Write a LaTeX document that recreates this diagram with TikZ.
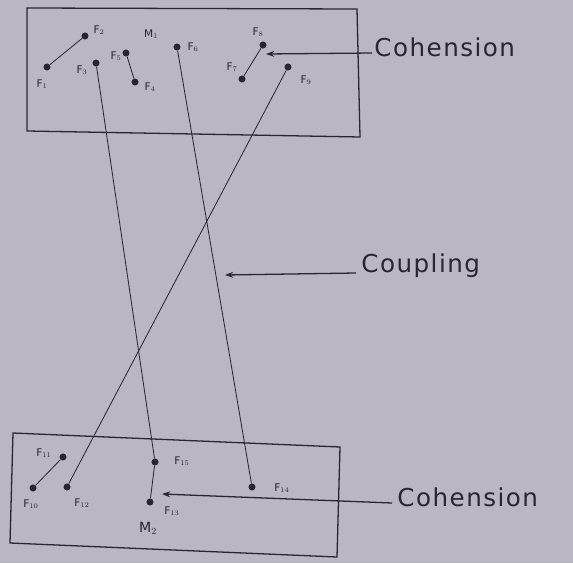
\documentclass[tikz,border=0pt]{standalone}
\usepackage{fontspec}
\setmainfont{DejaVu Sans}
\usetikzlibrary{arrows.meta}
\definecolor{paper}{RGB}{186,182,196}
\definecolor{ink}{RGB}{40,38,48}
\begin{document}
\begin{tikzpicture}[x=0.03cm,y=-0.03cm,
  pt/.style={circle,fill=ink,inner sep=0pt,minimum size=6pt},
  lab/.style={text=ink,font=\fontsize{9}{10}\selectfont,inner sep=1pt},
  big/.style={text=ink,font=\addfontfeatures{LetterSpace=6}\fontsize{21}{23}\selectfont,inner sep=1pt,anchor=west},
  wire/.style={draw=ink,line width=0.7pt},
  box/.style={draw=ink,line width=1.1pt},
  arr/.style={draw=ink,line width=1.1pt,-{Stealth[length=7pt,width=5pt]}}]
\fill[paper] (0,0) rectangle (573,563);
\useasboundingbox (0,0) rectangle (573,563);
% boxes
\draw[box] (27,8) -- (357,9) -- (360,137) -- (27,131) -- cycle;
\draw[box] (13,433) -- (340,447) -- (337,557) -- (10,543) -- cycle;
% top points
\node[pt] (p1) at (47,67) {};
\node[pt] (p2) at (85,36) {};
\node[pt] (p3) at (96,63) {};
\node[pt] (p5) at (126,53) {};
\node[pt] (p4) at (135,82) {};
\node[pt] (p6) at (177,47) {};
\node[pt] (p8) at (263,45) {};
\node[pt] (p7) at (242,79) {};
\node[pt] (p9) at (288,67) {};
% bottom points
\node[pt] (p11) at (63,457) {};
\node[pt] (p10) at (33,488) {};
\node[pt] (p12) at (67,487) {};
\node[pt] (p15) at (155,462) {};
\node[pt] (m2) at (150,502) {};
\node[pt] (p14) at (252,487) {};
% top labels
\node[lab] at (42,84) {F$_1$};
\node[lab] at (99,30) {F$_2$};
\node[lab] at (82,70) {F$_3$};
\node[lab] at (116,56) {F$_5$};
\node[lab] at (150,87) {F$_4$};
\node[lab] at (151,34) {M$_1$};
\node[lab] at (193,47) {F$_6$};
\node[lab] at (258,32) {F$_8$};
\node[lab] at (232,67) {F$_7$};
\node[lab] at (306,80) {F$_9$};
% bottom labels
\node[lab] at (44,453) {F$_{11}$};
\node[lab] at (31,504) {F$_{10}$};
\node[lab] at (82,503) {F$_{12}$};
\node[lab] at (182,461) {F$_{15}$};
\node[lab] at (172,511) {F$_{13}$};
\node[lab,font=\fontsize{12}{13}\selectfont] at (148,528) {M$_2$};
\node[lab] at (282,488) {F$_{14}$};
% connectors
\draw[wire] (p1) -- (p2);
\draw[wire] (p5) -- (p4);
\draw[wire] (p8) -- (p7);
\draw[wire] (p11) -- (p10);
\draw[wire] (p15) -- (m2);
\draw[wire] (p3) -- (p15);
\draw[wire] (p6) -- (p14);
\draw[wire] (p9) -- (p12);
% annotations
\node[big] (coh1) at (373,47) {Cohension};
\node[big] (coup) at (360,266) {Coupling};
\node[big] (coh2) at (396,497) {Cohension};
\coordinate (t1) at (266,54);
\coordinate (t2) at (225,275);
\coordinate (t3) at (162,494);
\draw[arr] (coh1.west) ++(-1,6) -- (t1);
\draw[arr] (coup.west) ++(-4,7) -- (t2);
\draw[arr] (coh2.west) ++(-4,6) -- (t3);
\end{tikzpicture}
\end{document}
